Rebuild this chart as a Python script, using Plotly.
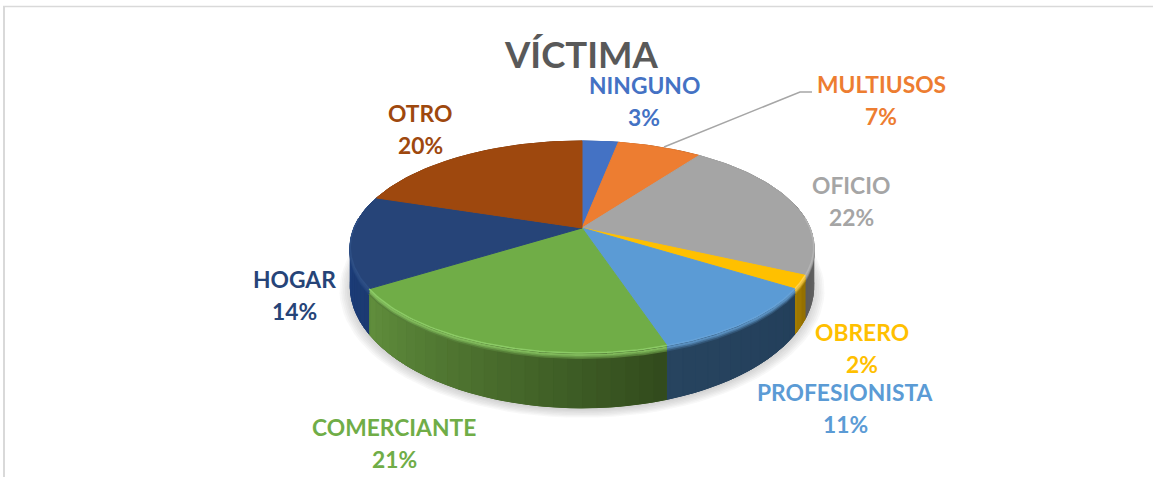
import numpy as np
import plotly.graph_objects as go

TITLE = "VÍCTIMA"
categories = ["NINGUNO", "MULTIUSOS", "OFICIO", "OBRERO", "PROFESIONISTA", "COMERCIANTE", "HOGAR", "OTRO"]
values = [3, 7, 22, 2, 11, 21, 14, 20]

top_colors = ["#4472c4", "#ed7d31", "#a5a5a5", "#ffc000", "#5b9bd5", "#70ad47", "#264478", "#9e480e"]
# side of each slice, clockwise start -> end
side_from = ["#2f5597", "#a5561f", "#8a8a8a", "#8f6c00", "#233f5b", "#314a1c", "#1b3a72", "#6e3209"]
side_to = ["#2f5597", "#a5561f", "#5a5a5a", "#a67e00", "#27445f", "#618f3d", "#1f4180", "#6e3209"]
rim_colors = ["#4472c4", "#ed7d31", "#b4b4b4", "#ffd24d", "#66a2d8", "#8ccb66", "#2e4f85", "#9e480e"]

# label centres in page pixels
label_x = [644, 881, 851, 862, 845, 394, 294, 420]
label_y = [101, 100, 201, 348, 408, 443, 295, 129]
LINE_GAP = 32

# projection of the tilted disc onto the page
CX, CY = 582, 228
RX, RY = 228, 102.6
PERSP = 0.179
DEPTH = 37


def project(theta, scale=1.0):
    ux = np.sin(theta) * scale
    uy = np.cos(theta) * scale
    w = 1 + PERSP * uy
    return CX + RX * ux / w, CY - RY * uy / w, w


def mix(a, b, t):
    ca = [int(a[i:i + 2], 16) for i in (1, 3, 5)]
    cb = [int(b[i:i + 2], 16) for i in (1, 3, 5)]
    return "#" + "".join(f"{round(p + (q - p) * t):02x}" for p, q in zip(ca, cb))


def poly(fig, xs, ys, color, line=True):
    fig.add_trace(go.Scatter(
        x=xs, y=ys, mode="lines", fill="toself", fillcolor=color,
        line=dict(color=color if line else "rgba(0,0,0,0)", width=1),
        hoverinfo="skip", showlegend=False,
    ))


def wall(fig, a, b, color):
    seg = np.linspace(a, b, max(2, int((b - a) / np.radians(2)) + 1))
    x1, y1, w1 = project(seg)
    poly(
        fig,
        np.concatenate([x1, x1[::-1]]),
        np.concatenate([y1, (y1 + DEPTH / w1 ** 2)[::-1]]),
        color,
    )


fig = go.Figure()

ends = np.cumsum(values) / sum(values) * 2 * np.pi
starts = np.concatenate([[0], ends[:-1]])

# soft shadow under the pie
around = np.radians(np.arange(0, 361, 3))
for grow in np.linspace(1.045, 1.0, 7):
    sx, sy, sw = project(around, grow)
    poly(fig, sx, sy + 2 + DEPTH / sw ** 2, "rgba(120,120,120,0.05)", line=False)

# side wall: a flat underlay per slice, then shaded strips on it
for i in range(len(values)):
    wall(fig, starts[i], ends[i], mix(side_from[i], side_to[i], 0.5))
    cuts = np.append(np.arange(starts[i], ends[i], np.radians(3)), ends[i])
    for j in range(len(cuts) - 1):
        a, b = cuts[j], cuts[j + 1]
        if np.cos((a + b) / 2) > 0.25:
            continue
        f = ((a + b) / 2 - starts[i]) / (ends[i] - starts[i])
        wall(fig, a, b, mix(side_from[i], side_to[i], f))

# bevel along the front edge of the top
for i in range(len(values)):
    arc = np.linspace(starts[i], ends[i], 60)
    arc = arc[np.cos(arc) < 0.1]
    if len(arc) < 2:
        continue
    f = (arc - starts[i]) / (ends[i] - starts[i])
    mid = mix(side_from[i], side_to[i], float(f.mean()))
    ex, ey, ew = project(arc)
    for dy, amt in zip([5, 3.5, 2], [0.8, 0.5, 0.2]):
        fig.add_trace(go.Scatter(
            x=ex, y=ey + dy, mode="lines",
            line=dict(color=mix(rim_colors[i], mid, amt), width=2),
            hoverinfo="skip", showlegend=False,
        ))

# top face
for i in range(len(values)):
    arc = np.linspace(starts[i], ends[i], 80)
    ax, ay, _ = project(arc)
    poly(fig, np.concatenate([[CX], ax, [CX]]), np.concatenate([[CY], ay, [CY]]), top_colors[i])

# highlight on the very edge
for i in range(len(values)):
    arc = np.linspace(starts[i], ends[i], 60)
    arc = arc[np.cos(arc) < 0.1]
    if len(arc) < 2:
        continue
    ex, ey, _ = project(arc)
    fig.add_trace(go.Scatter(
        x=ex, y=ey, mode="lines",
        line=dict(color=rim_colors[i], width=1.5),
        hoverinfo="skip", showlegend=False,
    ))

# leader line for MULTIUSOS
fig.add_trace(go.Scatter(
    x=[664, 800, 812], y=[147, 92, 92], mode="lines",
    line=dict(color="#a6a6a6", width=1.5),
    hoverinfo="skip", showlegend=False,
))

for cat, val, col, lx, ly in zip(categories, values, top_colors, label_x, label_y):
    for text, off in ((cat, -LINE_GAP / 2), (f"{val}%", LINE_GAP / 2)):
        fig.add_annotation(
            x=lx, y=ly + off, text=text, showarrow=False,
            xanchor="center", yanchor="middle",
            font=dict(family="Lato, sans-serif", size=22.8, color=col, weight="bold"),
        )

fig.add_annotation(
    x=581.5, y=54, text=TITLE, showarrow=False, xanchor="center", yanchor="middle",
    font=dict(family="Lato, sans-serif", size=36.5, color="#595959", weight="bold"),
)

# frame of the original chart area (top and left only)
fig.add_shape(type="line", x0=3, x1=1153, y0=6.5, y1=6.5, line=dict(color="#d9d9d9", width=1.5))
fig.add_shape(type="line", x0=4, x1=4, y0=6, y1=477, line=dict(color="#d9d9d9", width=2))

fig.update_layout(
    width=1153, height=477,
    margin=dict(l=0, r=0, t=0, b=0),
    paper_bgcolor="white", plot_bgcolor="white",
    xaxis=dict(range=[0, 1153], visible=False, fixedrange=True),
    yaxis=dict(range=[477, 0], visible=False, fixedrange=True),
)

fig.write_html("out.html", config=dict(displayModeBar=False),
               post_script="document.body.style.margin='0';")
